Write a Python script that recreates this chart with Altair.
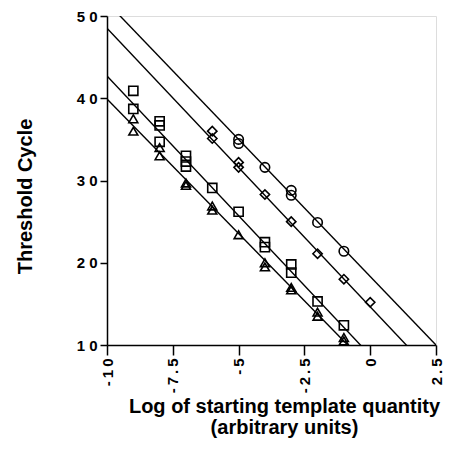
import altair as alt
import pandas as pd

# Marker data
circle_x = [-5, -5, -4, -3, -3, -2, -1]
circle_y = [35.0, 34.5, 31.6, 28.8, 28.2, 24.9, 21.4]

diamond_x = [-6, -6, -5, -5, -4, -3, -2, -1, 0]
diamond_y = [36.0, 35.1, 32.2, 31.6, 28.3, 25.0, 21.1, 18.0, 15.2]

square_x = [-9, -9, -8, -8, -8, -7, -7, -7, -6, -5, -4, -4, -3, -3, -2, -1]
square_y = [40.9, 38.7, 37.2, 36.7, 34.7, 33.0, 32.3, 31.7, 29.1, 26.2, 22.5, 21.9, 19.8, 18.8, 15.3, 12.4]

triangle_x = [-9, -9, -8, -8, -7, -7, -6, -6, -5, -4, -4, -3, -3, -2, -2, -1, -1]
triangle_y = [37.5, 36.0, 34.0, 33.0, 29.7, 29.4, 26.9, 26.4, 23.4, 20.0, 19.5, 17.0, 16.7, 14.0, 13.5, 10.9, 10.5]

# Fitted lines (slope, intercept at x=0)
line_series = ["circle", "diamond", "square", "triangle"]
line_slope = [-3.333, -3.386, -3.396, -3.27]
line_intercept = [18.33, 14.64, 8.74, 7.2]
line_x_range = [-10, 2.5]

x_ticks = [-10, -7.5, -5, -2.5, 0, 2.5]
y_ticks = [10, 20, 30, 40, 50]

rows = []
for s, xs, ys in [("circle", circle_x, circle_y), ("diamond", diamond_x, diamond_y),
                  ("square", square_x, square_y), ("triangle", triangle_x, triangle_y)]:
    for a, b in zip(xs, ys):
        rows.append({"series": s, "x": a, "y": b})
pts = pd.DataFrame(rows)

lrows = []
for s, m, c in zip(line_series, line_slope, line_intercept):
    for xv in line_x_range:
        lrows.append({"series": s, "x": xv, "y": m * xv + c})
lines_df = pd.DataFrame(lrows)

FONT = "Liberation Sans"

xscale = alt.Scale(domain=[-10, 2.5], nice=False, zero=False)
yscale = alt.Scale(domain=[10, 50], nice=False, zero=False)

xaxis = alt.Axis(
    values=x_ticks, labelAngle=-90, labelAlign="right", labelBaseline="middle",
    labelFont=FONT, labelFontSize=15, labelFontWeight="bold", labelColor="black",
    labelExpr="join(split(toString(datum.value), ''), '\u2009')",
    labelPadding=3, tickSize=10, tickColor="black", tickWidth=1.5,
    domainColor="black", domainWidth=1.5, grid=False, labelFlush=False,
    title=["Log of starting template quantity", "(arbitrary units)"],
    titleFont=FONT, titleFontSize=20, titleFontWeight="bold", titleColor="black",
    titleX=177, titleY=67, titleAlign="center", titleBaseline="alphabetic",
    titleLineHeight=21,
)
yaxis = alt.Axis(
    values=y_ticks,
    labelFont=FONT, labelFontSize=15, labelFontWeight="bold", labelColor="black",
    labelExpr="join(split(toString(datum.value), ''), ' ')",
    labelPadding=3, tickSize=7, tickColor="black", tickWidth=1.5,
    domainColor="black", domainWidth=1.5, grid=False, labelFlush=False,
    title="Threshold Cycle",
    titleFont=FONT, titleFontSize=20, titleFontWeight="bold", titleColor="black",
    titleX=-82, titleY=180, titleAngle=-90, titleAlign="center", titleBaseline="middle",
)

lines = alt.Chart(lines_df).mark_line(color="black", strokeWidth=1.4, clip=True).encode(
    x=alt.X("x:Q", scale=xscale, axis=xaxis),
    y=alt.Y("y:Q", scale=yscale, axis=yaxis),
    detail="series:N",
)

shape_map = alt.Scale(domain=["circle", "diamond", "square", "triangle"],
                      range=["circle", "diamond", "square", "triangle-up"])
size_map = alt.Scale(domain=["circle", "diamond", "square", "triangle"],
                     range=[90, 80, 110, 130])

points = alt.Chart(pts).mark_point(filled=False, color="black", strokeWidth=1.6, opacity=1, clip=False).encode(
    x=alt.X("x:Q", scale=xscale),
    y=alt.Y("y:Q", scale=yscale),
    shape=alt.Shape("series:N", scale=shape_map, legend=None),
    size=alt.Size("series:N", scale=size_map, legend=None),
)

chart = alt.layer(lines, points).properties(
    width=329, height=329,
    autosize=alt.AutoSizeParams(type="none"),
    padding={"left": 99, "top": 8, "right": 10, "bottom": 112},
).configure_view(stroke=None).configure(background="white")

chart.save("out.html", embed_options={"renderer": "svg", "actions": False})
